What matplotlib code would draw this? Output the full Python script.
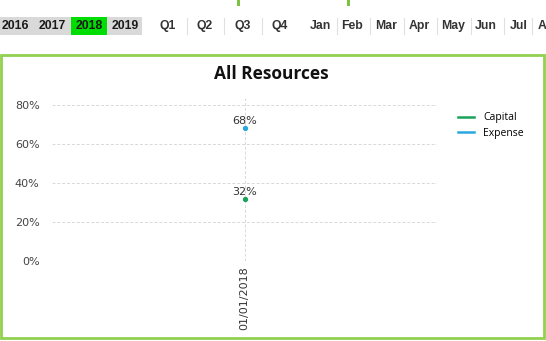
import matplotlib.pyplot as plt
from matplotlib.patches import Rectangle
from matplotlib.lines import Line2D

# chart data
dates = ["01/01/2018"]
series_names = ["Capital", "Expense"]
capital = [0.32]
expense = [0.68]
series_colors = ["#1aa35a", "#2aa7dc"]
y_ticks = [0.0, 0.2, 0.4, 0.6, 0.8]

# filter bar labels
years = ["2016", "2017", "2018", "2019"]
selected_year = "2018"
quarters = ["Q1", "Q2", "Q3", "Q4"]
months = ["Jan", "Feb", "Mar", "Apr", "May", "Jun", "Jul", "A"]

W, H = 546, 341
fig = plt.figure(figsize=(W / 100, H / 100), dpi=100)
fig.patch.set_facecolor("white")


def fx(px):
    return px / W


def fy(py):
    return 1 - py / H


# --- filter bar ---
fig.patches.append(Rectangle((fx(0), fy(35)), fx(142), 18 / H, transform=fig.transFigure,
                             facecolor="#d9d9d9", edgecolor="none"))
year_x = [15, 52, 89, 125]
for yx, yr in zip(year_x, years):
    if yr == selected_year:
        fig.patches.append(Rectangle((fx(yx - 18), fy(35)), fx(36), 18 / H, transform=fig.transFigure,
                                     facecolor="#00dd00", edgecolor="none"))
    fig.text(fx(yx), fy(26), yr, ha="center", va="center", fontsize=8.8, fontweight="bold",
             family="Liberation Sans", color="#1a1a1a")

q_x = [168, 205, 243, 280]
for i, (qx, q) in enumerate(zip(q_x, quarters)):
    fig.text(fx(qx), fy(26), q, ha="center", va="center", fontsize=8.8, fontweight="bold",
             family="Liberation Sans", color="#333333")
    if i < len(quarters) - 1:
        sx = (qx + q_x[i + 1]) / 2
        fig.lines.append(Line2D([fx(sx), fx(sx)], [fy(18), fy(34)], transform=fig.transFigure,
                                color="#e0e0e0", lw=0.8))

m_x = [320, 352, 386, 419, 453, 486, 519, 542]
for i, (mx, m) in enumerate(zip(m_x, months)):
    fig.text(fx(mx), fy(26), m, ha="center", va="center", fontsize=8.8, fontweight="bold",
             family="Liberation Sans", color="#333333")
    if i < len(months) - 1:
        sx = (mx + m_x[i + 1]) / 2 + 1
        fig.lines.append(Line2D([fx(sx), fx(sx)], [fy(18), fy(34)], transform=fig.transFigure,
                                color="#e0e0e0", lw=0.8))

# small green tabs at the top edge
for tx in [238, 348]:
    fig.patches.append(Rectangle((fx(tx - 1.5), fy(6)), fx(3), 6 / H, transform=fig.transFigure,
                                 facecolor="#7cc242", edgecolor="none"))

# green frame around the chart panel
fig.patches.append(Rectangle((fx(1), fy(338)), fx(543), 283 / H, transform=fig.transFigure,
                             facecolor="none", edgecolor="#92d050", lw=2.0))

# title is centred on the panel, not on the plot area
fig.text(fx(271), fy(74), "All Resources", ha="center", va="center", fontsize=12.5,
         fontweight="bold", family="Open Sans", color="#111111")

# --- chart ---
ax = fig.add_axes([fx(52), fy(261), fx(437 - 52), (261 - 98) / H])
ax.set_xlim(-0.5, len(dates) - 0.5)
ax.set_ylim(0, 0.836)
xs = list(range(len(dates)))

handles = []
for vals, name, col in zip([capital, expense], series_names, series_colors):
    ax.plot(xs, vals, color=col, marker="o", markersize=2.8, lw=1.5)
    handles.append(Line2D([], [], color=col, lw=1.8, label=name))
    for x, v in zip(xs, vals):
        ax.annotate(f"{v * 100:.0f}%", (x, v), xytext=(0, 1.5), textcoords="offset points",
                    ha="center", va="bottom", fontsize=8, color="#333333")

ax.set_yticks(y_ticks)
ax.set_yticklabels([f"{t * 100:.0f}%" for t in y_ticks], fontsize=8, color="#444444")
ax.set_xticks(xs)
ax.set_xticklabels(dates, rotation=90, fontsize=8, color="#333333")
ax.tick_params(length=0, pad=9)
ax.tick_params(axis="x", pad=4)
ax.grid(True, color="#d8d8d8", linestyle=(0, (3, 2)), lw=0.7)
for s in ax.spines.values():
    s.set_visible(False)

ax.legend(handles=handles, loc="upper left", bbox_to_anchor=(1.03, 0.97), frameon=False,
          handlelength=1.5, handletextpad=0.9, labelspacing=0.45,
          prop={"family": "Open Sans", "size": 7.5})

fig.savefig("out.png", dpi=100)
